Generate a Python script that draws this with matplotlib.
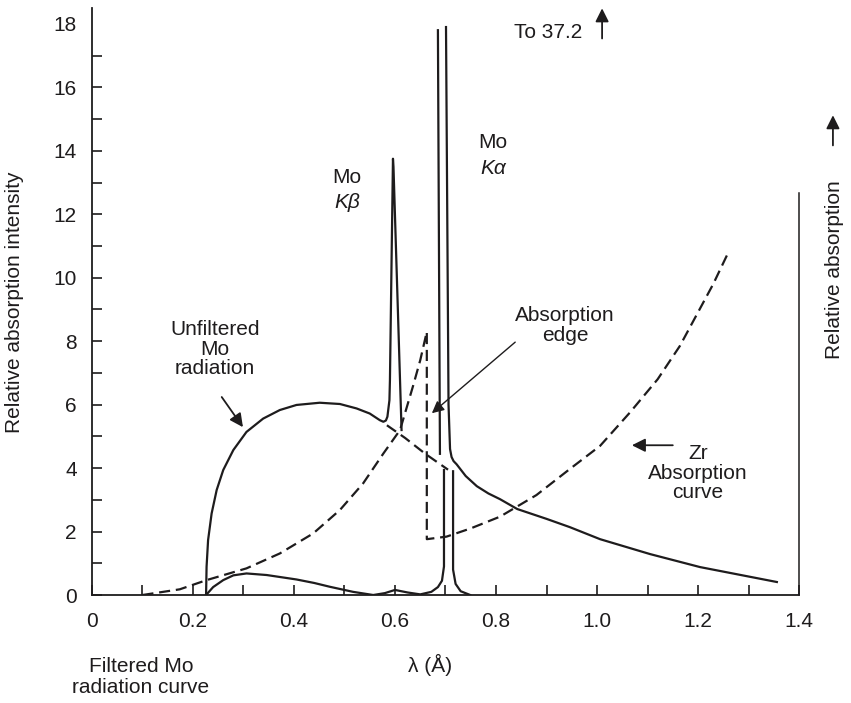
import matplotlib
matplotlib.use("Agg")
import matplotlib.pyplot as plt
import numpy as np

plt.rcParams['font.family'] = ['Liberation Sans', 'DejaVu Sans']
plt.rcParams['font.size'] = 15

INK = '#1e1c1d'

# unfiltered Mo spectrum: continuum + K-beta peak
unf_x = [0.226, 0.227, 0.230, 0.237, 0.247, 0.260, 0.280, 0.306, 0.339, 0.372,
         0.405, 0.451, 0.491, 0.524, 0.550, 0.570, 0.577, 0.582, 0.585, 0.589,
         0.590, 0.596, 0.597, 0.613]
unf_y = [0.0, 0.89, 1.73, 2.57, 3.31, 3.94, 4.57, 5.14, 5.56, 5.83,
         5.99, 6.06, 6.02, 5.88, 5.72, 5.51, 5.46, 5.5, 5.62, 6.14,
         6.77, 13.75, 13.5, 5.2]
# continuum hidden under the K-alpha peak (dashed)
hid_x = [0.584, 0.62, 0.66, 0.705]
hid_y = [5.35, 4.95, 4.45, 3.95]
# K-alpha left side
ka_left_x = [0.689, 0.685]
ka_left_y = [4.45, 17.8]
# K-alpha right side and long wavelength tail
tail_x = [0.701, 0.706, 0.709, 0.712, 0.716, 0.722, 0.740, 0.762, 0.785, 0.808,
          0.842, 0.900, 0.946, 1.006, 1.105, 1.204, 1.356]
tail_y = [17.9, 6.0, 4.6, 4.35, 4.22, 4.12, 3.75, 3.43, 3.2, 3.02,
          2.71, 2.4, 2.14, 1.76, 1.29, 0.88, 0.41]

# filtered Mo spectrum
filt_x = [0.226, 0.24, 0.260, 0.280, 0.306, 0.346, 0.405, 0.440, 0.471, 0.517,
          0.557, 0.58, 0.600, 0.625, 0.65, 0.672, 0.685, 0.693, 0.697, 0.697]
filt_y = [0.0, 0.25, 0.47, 0.62, 0.68, 0.63, 0.49, 0.38, 0.26, 0.1,
          0.0, 0.06, 0.16, 0.08, 0.02, 0.1, 0.25, 0.45, 0.9, 3.94]
filt_r_x = [0.715, 0.715, 0.72, 0.73, 0.749]
filt_r_y = [3.9, 0.8, 0.35, 0.12, 0.0]

# Zr absorption curve with the K edge
zr_x = [0.10, 0.174, 0.227, 0.306, 0.372, 0.438, 0.491, 0.537, 0.577, 0.610,
        0.636, 0.65, 0.663, 0.663, 0.702, 0.75, 0.808, 0.88, 0.946, 1.006,
        1.065, 1.12, 1.164, 1.23, 1.257]
zr_y = [0.0, 0.18, 0.47, 0.84, 1.31, 1.94, 2.68, 3.52, 4.46, 5.2,
        6.6, 7.4, 8.3, 1.76, 1.84, 2.1, 2.47, 3.15, 3.97, 4.7,
        5.75, 6.8, 7.85, 9.8, 10.7]

right_x = [1.4, 1.4]
right_y = [0.0, 12.66]

fig = plt.figure(figsize=(8.51, 7.03), dpi=100)
ax = fig.add_axes([0.108, 0.1536, 0.831, 0.835])

lw = 1.6
dash = (5, 2.6)
ax.plot(unf_x, unf_y, color=INK, lw=lw)
ax.plot(hid_x, hid_y, color=INK, lw=lw, ls=(0, dash))
ax.plot(ka_left_x, ka_left_y, color=INK, lw=lw)
ax.plot(tail_x, tail_y, color=INK, lw=lw)
ax.plot(filt_x, filt_y, color=INK, lw=lw)
ax.plot(filt_r_x, filt_r_y, color=INK, lw=lw)
ax.plot(zr_x, zr_y, color=INK, lw=lw, ls=(0, dash))
ax.plot(right_x, right_y, color=INK, lw=1.1, clip_on=False)

ax.set_xlim(0, 1.4)
ax.set_ylim(0, 18.5)
for s in ['top', 'right']:
    ax.spines[s].set_visible(False)
for s in ['left', 'bottom']:
    ax.spines[s].set_linewidth(1.3)
    ax.spines[s].set_color(INK)

ax.set_xticks(np.arange(0, 1.41, 0.2))
ax.set_xticklabels(['0', '0.2', '0.4', '0.6', '0.8', '1.0', '1.2', '1.4'])
ax.set_xticks(np.arange(0.1, 1.4, 0.2), minor=True)
ax.set_yticks(np.arange(0, 19, 2))
ax.set_yticks(np.arange(1, 18, 2), minor=True)
ax.tick_params(which='both', direction='in', length=7.5, width=1.2, color=INK,
               labelcolor=INK, labelsize=15)
ax.tick_params(axis='x', which='major', pad=12)
ax.tick_params(axis='y', which='major', pad=11)
ax.yaxis.get_major_ticks()[-1].tick1line.set_visible(False)

txt = dict(color=INK, ha='center', va='center', fontsize=15)
ax.text(0.505, 13.17, 'Mo', **txt)
ax.text(0.505, 12.38, 'Kβ', style='italic', **txt)
ax.text(0.794, 14.27, 'Mo', **txt)
ax.text(0.794, 13.45, 'Kα', style='italic', **txt)
ax.text(0.2436, 7.75, 'Unfiltered\nMo\nradiation', linespacing=1.05, **txt)
ax.text(0.937, 8.50, 'Absorption\nedge', linespacing=1.05, **txt)
ax.text(1.2, 3.84, 'Zr\nAbsorption\ncurve', linespacing=1.05, **txt)
ax.text(0.903, 17.73, 'To 37.2', **txt)
ax.text(1.471, 10.24, 'Relative absorption', rotation=90, clip_on=False, **txt)

arrow_bold = dict(arrowstyle='-|>', color=INK, lw=1.3, mutation_scale=20,
                  shrinkA=0, shrinkB=0)
ax.annotate('', xy=(0.299, 5.29), xytext=(0.257, 6.24), arrowprops=arrow_bold)
ax.annotate('', xy=(0.673, 5.73), xytext=(0.838, 7.97),
            arrowprops=dict(arrowstyle='-|>', color=INK, lw=1.0,
                            mutation_scale=18, shrinkA=0, shrinkB=0))
ax.annotate('', xy=(1.069, 4.72), xytext=(1.150, 4.72), arrowprops=arrow_bold)
ax.annotate('', xy=(1.010, 18.49), xytext=(1.010, 17.54), arrowprops=arrow_bold,
            annotation_clip=False)
ax.annotate('', xy=(1.467, 15.12), xytext=(1.467, 14.17), arrowprops=arrow_bold,
            annotation_clip=False)

fig.text(15 / 851, 1 - 302 / 703, 'Relative absorption intensity', rotation=90,
         **txt)
fig.text(430 / 851, 1 - 665 / 703, 'λ (Å)', **txt)
fig.text(141 / 851, 1 - 677 / 703, 'Filtered Mo\nradiation curve',
         linespacing=1.1, **txt)

fig.savefig('out.png', dpi=100)
